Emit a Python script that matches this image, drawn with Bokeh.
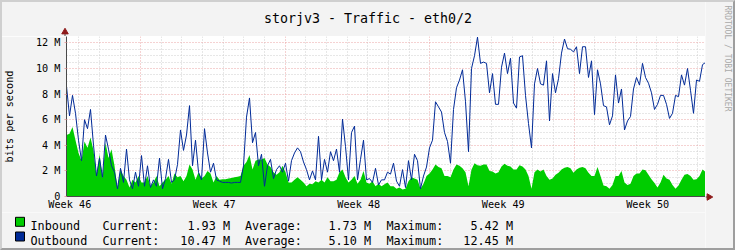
import math
import numpy as np
from bokeh.plotting import figure
from bokeh.layouts import column, row
from bokeh.models import FixedTicker, ColumnDataSource, Range1d
from bokeh.core.properties import value
from bokeh.embed import file_html
from bokeh.resources import INLINE

# ---------------- data ----------------
TITLE = "storjv3 - Traffic - eth0/2"
Y_LABEL = "bits per second"
WATERMARK = "RRDTOOL / TOBI OETIKER"

SPAN_DAYS = 30.96          # width of the time window, in days

# outbound traffic, Mbit/s, evenly sampled over the window
OUTBOUND = [
    8.6, 6.3, 7.9, 6.5, 4.4, 2.8, 6.0, 5.3, 6.8, 4.0, 1.6, 3.0, 1.5, 4.8, 3.7, 2.4, 1.9, 0.6,
    2.2, 1.1, 3.7, 1.3, 0.6, 1.9, 0.8, 3.2, 0.8, 2.4, 0.7, 1.3, 0.8, 3.0, 0.6, 1.4, 2.9, 1.1,
    1.3, 2.5, 5.2, 3.6, 4.8, 7.1, 2.4, 4.4, 1.9, 1.3, 5.3, 3.4, 1.9, 2.6, 1.3, 1.2, 1.1, 1.1,
    1.1, 1.05, 1.1, 1.1, 1.1, 2.4, 6.2, 7.7, 4.2, 5.0, 2.4, 3.3, 0.8, 2.4, 2.9, 1.4, 2.1,
    2.4, 1.9, 2.6, 1.2, 2.8, 3.4, 3.8, 3.5, 2.7, 2.1, 1.3, 2.0, 1.3, 4.7, 1.3, 2.9, 1.9, 3.5,
    2.8, 3.7, 1.9, 6.05, 3.9, 1.3, 5.0, 5.5, 1.3, 2.9, 4.4, 1.3, 1.4, 1.1, 2.2, 0.9, 1.3,
    1.3, 1.9, 1.75, 2.6, 1.2, 0.8, 2.1, 0.7, 2.8, 1.3, 3.3, 2.8, 0.6, 1.6, 2.3, 3.8, 4.4, 7.4,
    7.0, 6.6, 5.0, 4.3, 2.6, 6.8, 8.5, 9.1, 9.9, 7.4, 3.5, 10.0, 11.0, 12.45, 10.4, 10.5, 10.4,
    8.1, 9.6, 7.2, 7.2, 10.1, 11.2, 9.6, 10.8, 7.3, 6.9, 10.9, 11.0, 7.9, 5.7, 3.8, 8.8, 10.0,
    8.8, 8.7, 10.6, 5.9, 9.6, 8.1, 9.2, 11.2, 12.3, 11.55, 11.5, 11.3, 11.7, 9.6, 11.7, 11.7,
    9.3, 10.6,
    6.4, 9.9, 8.8, 7.1, 7.0, 5.6, 6.3, 9.5, 7.3, 8.4, 5.2, 5.9, 6.25, 8.4, 9.3, 8.7, 10.4, 9.3,
    8.85, 8.1, 6.8, 7.2, 7.9, 7.9, 7.2, 6.1, 6.5, 7.9, 7.8, 9.5, 8.7, 10.0, 8.3, 6.5, 9.1, 9.0,
    10.3, 10.47,
]

# inbound traffic, Mbit/s, same sampling
INBOUND = [
    4.8, 4.9, 5.42, 4.4, 3.4, 2.8, 4.3, 3.8, 4.6, 3.6, 1.6, 3.3, 1.4, 4.2, 3.0, 3.7, 2.4, 0.6,
    2.1, 1.6, 1.3, 0.7, 1.3, 1.1, 1.6, 1.1, 1.1, 1.6, 0.8, 1.1, 1.6, 0.8, 1.1, 1.3, 1.6, 1.0,
    1.8, 1.5, 1.6, 1.2, 1.6, 2.5, 2.1, 1.3, 1.9, 1.4, 1.6, 2.0, 1.8, 1.1, 1.6, 1.3, 1.35, 1.35,
    1.4, 1.45, 1.5, 1.55, 1.6, 2.4, 2.7, 3.25, 2.1, 2.8, 2.9, 2.9, 3.0, 2.5, 2.3, 1.9, 1.7,
    1.9, 2.4, 1.9, 1.1, 1.1, 1.3, 1.5, 1.3, 1.1, 0.8, 1.0, 0.95, 1.2, 1.1, 1.3, 1.1, 1.5, 1.2,
    1.2, 1.3, 1.9, 2.1, 1.5, 1.1, 1.3, 1.6, 1.0, 1.3, 2.0, 1.1, 1.0, 1.2, 0.8, 1.0, 0.8,
    0.95, 1.1, 0.8, 0.8, 0.6, 0.7, 0.55, 0.6, 1.2, 1.5, 1.4, 1.3, 0.6, 1.0, 1.6, 1.8, 2.1, 2.5,
    2.3, 2.2, 1.6, 1.6, 1.5, 2.1, 2.5, 2.4, 2.2, 1.9, 0.8, 2.1, 2.6, 2.45, 2.4, 2.5, 2.5,
    2.0, 1.95, 1.8, 1.9, 2.35, 2.55, 2.4, 2.35, 2.1, 2.1, 2.45, 2.35, 2.1, 1.6, 0.6, 1.9, 2.1,
    1.95, 2.1, 1.6, 1.3, 1.4, 1.7, 1.85, 2.1, 2.25, 2.3, 2.2, 1.85, 2.1, 2.25, 2.3, 2.2, 1.85,
    1.6,
    1.6, 2.3, 1.6, 0.85, 0.8, 0.6, 0.9, 1.6, 1.6, 2.0, 1.1, 0.9, 1.0, 1.6, 1.8, 1.8, 2.1, 2.05,
    1.7, 1.35, 1.05, 0.7, 1.1, 1.7, 1.4, 1.3, 0.9, 0.6, 0.85, 1.3, 1.7, 1.75, 1.6, 1.3, 1.35,
    1.6, 2.1, 1.93,
]

WEEK_LABELS = ["Week 46", "Week 47", "Week 48", "Week 49", "Week 50"]
WEEK_LABEL_DAYS = [0.16, 7.16, 14.16, 21.16, 28.16]
WEEK_START_DAYS = [3.595, 10.595, 17.595, 24.595]
FIRST_DAY_LINE = 0.595

Y_MAX = 12.5
Y_TICKS = [0, 2, 4, 6, 8, 10, 12]
Y_TICK_LABELS = ["0", "2 M", "4 M", "6 M", "8 M", "10 M", "12 M"]

SERIES_NAMES = ["Inbound", "Outbound"]
CURRENT = ["1.93 M", "10.47 M"]
AVERAGE = ["1.73 M", "5.10 M"]
MAXIMUM = ["5.42 M", "12.45 M"]

# ---------------- style ----------------
MONO = "DejaVu Sans Mono"
FONT = value(MONO)
C_IN = "#00CC00"
C_OUT = "#002A97"
C_BACK = "#F3F3F3"
C_MINOR = "#CFCFCF"
C_MAJOR = "#EBA5A5"
C_AXIS = "#4A4A4A"
C_ARROW = "#8E1B1B"

W, H = 735, 250
FL, FR, FT, FB = 65, 705, 36, 196   # plot frame edges on the canvas
LEG_TOP = 212


def strip(x0, x1, y0, y1):
    """A decoration strip whose coordinates are canvas pixels."""
    f = figure(width=x1 - x0, height=y1 - y0, output_backend="svg", toolbar_location=None,
               x_range=Range1d(x0, x1), y_range=Range1d(y1, y0),
               x_axis_location=None, y_axis_location=None,
               min_border_left=0, min_border_right=0, min_border_top=0, min_border_bottom=0)
    f.background_fill_color = C_BACK
    f.border_fill_color = C_BACK
    f.outline_line_color = None
    f.grid.visible = False
    return f


# ---------------- main plot ----------------
p = figure(width=FR, height=LEG_TOP - FT, output_backend="svg", toolbar_location=None,
           x_range=Range1d(0, SPAN_DAYS), y_range=Range1d(0, Y_MAX),
           min_border_left=FL, min_border_right=0,
           min_border_top=0, min_border_bottom=LEG_TOP - FB)
p.background_fill_color = "white"
p.border_fill_color = C_BACK
p.outline_line_color = None

day_lines = [FIRST_DAY_LINE + k for k in range(int(SPAN_DAYS - FIRST_DAY_LINE) + 1)]
day_minor = [d for d in day_lines if all(abs(d - w) > 1e-6 for w in WEEK_START_DAYS)]
half_m = [k * 0.5 for k in range(1, int(Y_MAX * 2) + 1)]
y_minor = [v for v in half_m if all(abs(v - t) > 1e-6 for t in Y_TICKS)]

xg = p.xgrid[0]
xg.ticker = FixedTicker(ticks=WEEK_START_DAYS, minor_ticks=day_minor)
xg.grid_line_color = C_MAJOR
xg.grid_line_dash = "1 2"
xg.minor_grid_line_color = C_MINOR
xg.minor_grid_line_dash = "1 2"

yg = p.ygrid[0]
yg.ticker = FixedTicker(ticks=Y_TICKS, minor_ticks=y_minor)
yg.grid_line_color = C_MAJOR
yg.grid_line_dash = "1 2"
yg.minor_grid_line_color = C_MINOR
yg.minor_grid_line_dash = "1 2"

ya = p.yaxis[0]
ya.ticker = FixedTicker(ticks=Y_TICKS)
ya.major_label_overrides = {t: s for t, s in zip(Y_TICKS, Y_TICK_LABELS)}
ya.major_label_text_font = MONO
ya.major_label_text_font_size = "10.2px"
ya.major_label_text_color = "black"
ya.major_tick_in = 0
ya.major_tick_out = 2
ya.major_tick_line_color = C_MAJOR
ya.minor_tick_out = 0
ya.minor_tick_in = 0
ya.major_label_standoff = 4
ya.axis_line_color = C_AXIS
ya.axis_label = Y_LABEL
ya.axis_label_text_font = MONO
ya.axis_label_text_font_style = "normal"
ya.axis_label_text_font_size = "10.2px"
ya.axis_label_text_color = "black"
ya.axis_label_standoff = 18

xa = p.xaxis[0]
xa.ticker = FixedTicker(ticks=WEEK_LABEL_DAYS)
xa.major_label_overrides = {t: s for t, s in zip(WEEK_LABEL_DAYS, WEEK_LABELS)}
xa.major_label_text_font = MONO
xa.major_label_text_font_size = "10.2px"
xa.major_label_text_color = "black"
xa.major_tick_in = 0
xa.major_tick_out = 0
xa.minor_tick_out = 0
xa.minor_tick_in = 0
xa.major_label_standoff = 2
xa.axis_line_color = C_AXIS

t = np.linspace(0, SPAN_DAYS, len(OUTBOUND))
src = ColumnDataSource(dict(t=t, inb=INBOUND, outb=OUTBOUND))
p.varea(x="t", y1=0, y2="inb", source=src, fill_color=C_IN)
p.line(x="t", y="outb", source=src, line_color=C_OUT, line_width=1)

# ---------------- title strip (top) ----------------
top = strip(0, FR, 0, FT)
top.text(x=[367.5], y=[18], text=[TITLE], text_font=FONT, text_font_size=value("13.3px"),
         text_align="center", text_baseline="alphabetic", text_color="black")
top.segment(x0=[FL - 0.5], y0=[FT], x1=[FL - 0.5], y1=[FT - 3], line_color=C_AXIS, line_width=1)
top.scatter(x=[FL - 0.5], y=[FT - 4.5], marker="triangle", size=6.5,
            fill_color=C_ARROW, line_color=C_ARROW)

# ---------------- legend strip (bottom) ----------------
leg = strip(0, FR, LEG_TOP, H)
rows_y = [225.8, 240.5]
colors = [C_IN, C_OUT]
leg.quad(left=[15, 15], right=[24, 24], top=[y - 9 for y in rows_y], bottom=rows_y,
         fill_color=colors, line_color="black", line_width=1)
FS = value("11.8px")
lx = [30] * 2 + [102] * 2 + [244.5] * 2 + [386] * 2
ltxt = SERIES_NAMES + ["Current:"] * 2 + ["Average:"] * 2 + ["Maximum:"] * 2
leg.text(x=lx, y=rows_y * 4, text=ltxt, text_font=FONT, text_font_size=FS,
         text_align="left", text_baseline="alphabetic", text_color="black")
rx = [229.5] * 2 + [370.5] * 2 + [512.5] * 2
rtxt = CURRENT + AVERAGE + MAXIMUM
leg.text(x=rx, y=rows_y * 3, text=rtxt, text_font=FONT, text_font_size=FS,
         text_align="right", text_baseline="alphabetic", text_color="black")

# ---------------- right strip: axis arrow + watermark ----------------
side = strip(FR, W, 0, H)
side.segment(x0=[FR], y0=[FB + 0.5], x1=[FR + 2], y1=[FB + 0.5], line_color=C_AXIS, line_width=1)
side.scatter(x=[FR + 3.5], y=[FB + 0.5], marker="triangle", size=6.5, angle=-math.pi / 2,
             fill_color=C_ARROW, line_color=C_ARROW)
side.text(x=[726.5], y=[5], text=[WATERMARK], text_font=FONT, text_font_size=value("8px"),
          text_align="left", text_baseline="middle", text_color="#A9A9A9",
          angle=-math.pi / 2)

FRAME_CSS = (":host::after { content: ''; position: absolute; left: 0; top: 0; "
             "width: 735px; height: 250px; box-sizing: border-box; border-style: solid; "
             "border-width: 2px; border-color: #CFCFCF #9E9E9E #9E9E9E #CFCFCF; "
             "pointer-events: none; z-index: 10; }")
# strips are wrapped so that the column does not align their frames with the plot frame
main_col = column(row(top, spacing=0), row(p, spacing=0), row(leg, spacing=0), spacing=0)
layout = row(main_col, side, spacing=0, stylesheets=[FRAME_CSS])

open("out.html", "w").write(file_html(layout, INLINE))
